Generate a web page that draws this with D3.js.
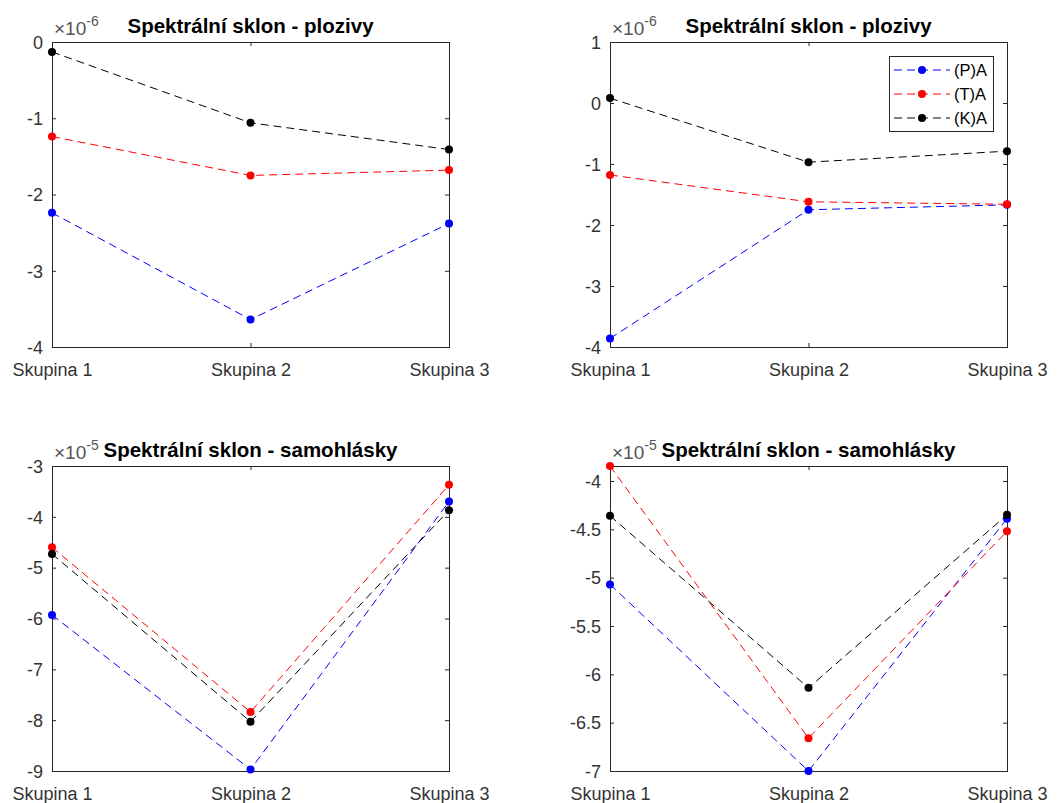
<!DOCTYPE html>
<html>
<head>
<meta charset="utf-8">
<script src="https://cdn.jsdelivr.net/npm/d3@7"></script>
<style>
  body { margin: 0; background: #fff; }
  svg { display: block; font-family: "Liberation Sans", Arial, sans-serif; }
</style>
</head>
<body>
<svg id="chart" width="1062" height="803"></svg>
<script>
// categories and series
var groups = ['Skupina 1', 'Skupina 2', 'Skupina 3'];
var seriesNames = ['(P)A', '(T)A', '(K)A'];
var seriesColors = ['#0000ff', '#ff0000', '#000000'];

// values (mantissa, see exponent of each panel)
var plozivyA_P = [-2.24, -3.64, -2.38];
var plozivyA_T = [-1.24, -1.75, -1.68];
var plozivyA_K = [-0.13, -1.06, -1.41];

var plozivyB_P = [-3.86, -1.75, -1.67];
var plozivyB_T = [-1.18, -1.62, -1.66];
var plozivyB_K = [0.08, -0.97, -0.79];

var samohlA_P = [-5.93, -8.97, -3.70];
var samohlA_T = [-4.60, -7.84, -3.37];
var samohlA_K = [-4.73, -8.03, -3.87];

var samohlB_P = [-5.07, -7.00, -4.39];
var samohlB_T = [-3.845, -6.66, -4.52];
var samohlB_K = [-4.36, -6.14, -4.35];

// tick labels
var ticksPlozivyA = [-4, -3, -2, -1, 0];
var ticksPlozivyB = [-4, -3, -2, -1, 0, 1];
var ticksSamohlA = [-9, -8, -7, -6, -5, -4, -3];
var ticksSamohlB = [-7, -6.5, -6, -5.5, -5, -4.5, -4];

var titlePlozivy = 'Spektrální sklon - plozivy';
var titleSamohl = 'Spektrální sklon - samohlásky';

var panels = [
  {x: 52, y: 42, title: titlePlozivy, exp: '-6', domain: [-4, 0], ticks: ticksPlozivyA,
   series: [plozivyA_P, plozivyA_T, plozivyA_K], legend: false},
  {x: 610, y: 42, title: titlePlozivy, exp: '-6', domain: [-4, 1], ticks: ticksPlozivyB,
   series: [plozivyB_P, plozivyB_T, plozivyB_K], legend: true},
  {x: 52, y: 466, title: titleSamohl, exp: '-5', domain: [-9, -3], ticks: ticksSamohlA,
   series: [samohlA_P, samohlA_T, samohlA_K], legend: false},
  {x: 610, y: 466, title: titleSamohl, exp: '-5', domain: [-7, -3.845], ticks: ticksSamohlB,
   series: [samohlB_P, samohlB_T, samohlB_K], legend: false}
];

var W = 397, H = 305;
var axisColor = '#262626';
var labelColor = '#333333';

var svg = d3.select('#chart');

panels.forEach(function(p) {
  var g = svg.append('g').attr('transform', 'translate(' + p.x + ',' + p.y + ')');

  var x = d3.scalePoint().domain(groups).range([0, W]).padding(0);
  var y = d3.scaleLinear().domain(p.domain).range([H, 0]);

  var fmt = function(d) { return String(d); };

  // left axis with labels
  g.append('g')
    .call(d3.axisLeft(y).tickValues(p.ticks).tickFormat(fmt).tickSizeInner(-4).tickSizeOuter(0).tickPadding(9))
    .call(styleAxis)
    .selectAll('text').attr('dy', '0.35em');

  // right axis ticks
  g.append('g').attr('transform', 'translate(' + W + ',0)')
    .call(d3.axisRight(y).tickValues(p.ticks).tickFormat('').tickSizeInner(-4).tickSizeOuter(0))
    .call(styleAxis);

  // bottom axis with labels
  g.append('g').attr('transform', 'translate(0,' + H + ')')
    .call(d3.axisBottom(x).tickSizeInner(-4).tickSizeOuter(0).tickPadding(16))
    .call(styleAxis);

  // top axis ticks
  g.append('g')
    .call(d3.axisTop(x).tickFormat('').tickSizeInner(-4).tickSizeOuter(0))
    .call(styleAxis);

  // box
  g.append('rect')
    .attr('x', 0.5).attr('y', 0.5).attr('width', W).attr('height', H)
    .attr('fill', 'none').attr('stroke', axisColor).attr('stroke-width', 1);

  // lines
  var line = d3.line()
    .x(function(d, i) { return x(groups[i]); })
    .y(function(d) { return y(d); });

  p.series.forEach(function(vals, si) {
    g.append('path')
      .datum(vals)
      .attr('d', line)
      .attr('fill', 'none')
      .attr('stroke', seriesColors[si])
      .attr('stroke-width', 1)
      .attr('stroke-dasharray', '8,5');

    g.selectAll('.dot' + si)
      .data(vals)
      .enter().append('circle')
      .attr('cx', function(d, i) { return x(groups[i]); })
      .attr('cy', function(d) { return y(d); })
      .attr('r', 4)
      .attr('fill', seriesColors[si]);
  });

  // title
  g.append('text')
    .attr('x', W / 2).attr('y', -9)
    .attr('text-anchor', 'middle')
    .style('font-size', '20.5px')
    .style('font-weight', 'bold')
    .style('fill', '#000')
    .text(p.title);

  // exponent
  var ex = g.append('text')
    .attr('x', 2).attr('y', -7)
    .style('font-size', '19px')
    .style('fill', '#555');
  ex.append('tspan').text('\u00d710');
  ex.append('tspan').attr('dy', -9).style('font-size', '14px').text(p.exp);

  if (p.legend) {
    var lx = W - 118, ly = 14, lw = 104, lh = 75;
    var lg = g.append('g').attr('transform', 'translate(' + lx + ',' + ly + ')');
    lg.append('rect')
      .attr('x', 0.5).attr('y', 0.5).attr('width', lw).attr('height', lh)
      .attr('fill', '#fff').attr('stroke', axisColor).attr('stroke-width', 1);
    seriesNames.forEach(function(name, si) {
      var yy = 14 + si * 24;
      lg.append('line')
        .attr('x1', 5).attr('x2', 61).attr('y1', yy).attr('y2', yy)
        .attr('stroke', seriesColors[si]).attr('stroke-width', 1)
        .attr('stroke-dasharray', '8,5');
      lg.append('circle').attr('cx', 33).attr('cy', yy).attr('r', 4).attr('fill', seriesColors[si]);
      lg.append('text')
        .attr('x', 65).attr('y', yy).attr('dy', '0.35em')
        .style('font-size', '16.5px')
        .style('fill', '#000')
        .text(name);
    });
  }
});

function styleAxis(sel) {
  sel.select('.domain').remove();
  sel.selectAll('.tick line').attr('stroke', axisColor);
  sel.selectAll('.tick text')
    .style('font-size', '18px')
    .style('font-family', '"Liberation Sans", Arial, sans-serif')
    .attr('fill', labelColor);
}
</script>
</body>
</html>
